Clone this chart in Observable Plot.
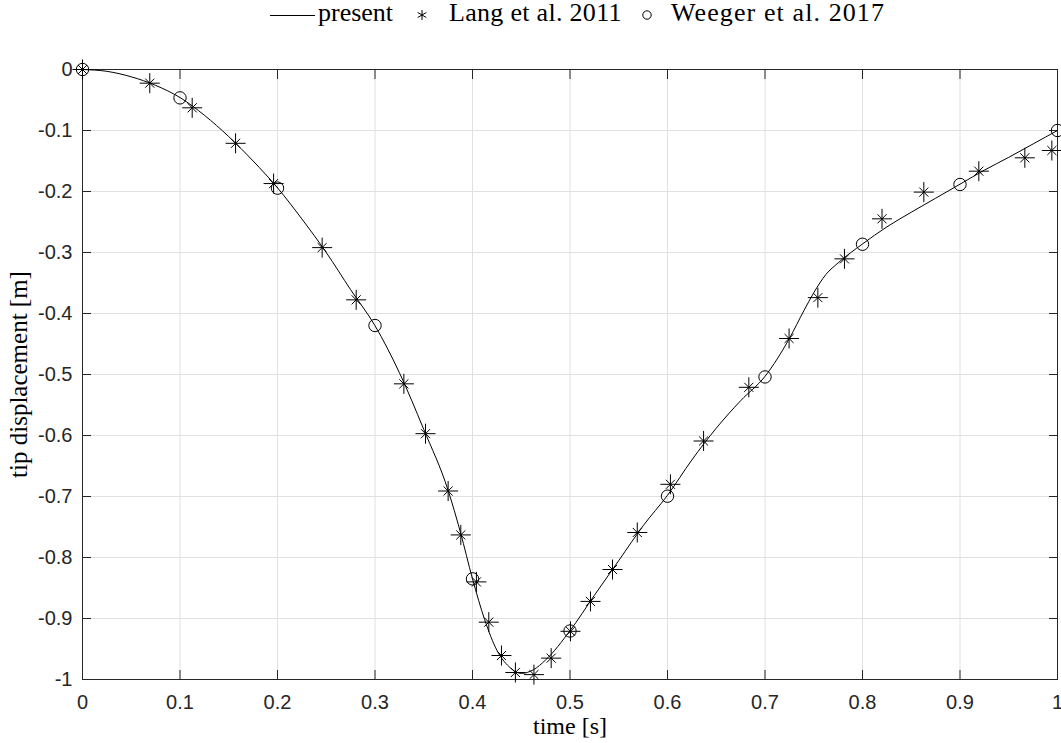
<!DOCTYPE html>
<html>
<head>
<meta charset="utf-8">
<script src="https://cdn.jsdelivr.net/npm/d3@7"></script>
<script src="https://cdn.jsdelivr.net/npm/@observablehq/plot@0.6"></script>
<style>
  html, body { margin: 0; padding: 0; background: #fff; overflow: hidden; }
  #legend { position: relative; width: 1061px; height: 40px; font-family: "Liberation Serif", "Times New Roman", serif; font-size: 26px; line-height: 26px; color: #000; }
  #legend .lbl { position: absolute; top: 0px; white-space: nowrap; }
  #legend .sym { position: absolute; }
  #chart svg { display: block; }
</style>
</head>
<body>
<div id="legend"></div>
<div id="chart"></div>
<script>
// ---- data ----
const presentT = [0, 0.025, 0.05, 0.075, 0.1, 0.125, 0.15, 0.175, 0.2, 0.225, 0.25, 0.275, 0.3, 0.325, 0.35, 0.375, 0.3875, 0.4, 0.4125, 0.425, 0.4375, 0.45, 0.4625, 0.475, 0.5, 0.525, 0.55, 0.575, 0.6, 0.625, 0.65, 0.675, 0.7, 0.725, 0.74, 0.75, 0.7625, 0.775, 0.8, 0.825, 0.85, 0.875, 0.9, 0.925, 0.95, 0.975, 1.0];
const presentY = [0, -0.003, -0.012, -0.026, -0.046, -0.075, -0.110, -0.150, -0.194, -0.245, -0.300, -0.361, -0.420, -0.497, -0.590, -0.690, -0.758, -0.835, -0.902, -0.952, -0.979, -0.990, -0.984, -0.968, -0.920, -0.862, -0.805, -0.748, -0.698, -0.640, -0.588, -0.543, -0.503, -0.441, -0.395, -0.366, -0.336, -0.317, -0.286, -0.258, -0.234, -0.211, -0.188, -0.165, -0.144, -0.122, -0.100];

const langT = [0, 0.069, 0.1125, 0.157, 0.196, 0.2458, 0.2807, 0.3296, 0.3518, 0.375, 0.388, 0.404, 0.4167, 0.4297, 0.444, 0.463, 0.4807, 0.5005, 0.521, 0.5436, 0.569, 0.603, 0.637, 0.6834, 0.7247, 0.7542, 0.7815, 0.820, 0.8629, 0.9193, 0.9665, 0.9942];
const langY = [0, -0.0224, -0.0628, -0.121, -0.187, -0.292, -0.3776, -0.5153, -0.597, -0.691, -0.763, -0.840, -0.906, -0.9607, -0.9885, -0.992, -0.965, -0.921, -0.872, -0.8197, -0.759, -0.680, -0.609, -0.521, -0.441, -0.374, -0.3104, -0.2448, -0.201, -0.1667, -0.1448, -0.1328];

const weegerT = [0, 0.1, 0.2, 0.3, 0.4, 0.5, 0.6, 0.7, 0.8, 0.9, 1.0];
const weegerY = [0, -0.0465, -0.1945, -0.4197, -0.835, -0.9205, -0.6995, -0.504, -0.2865, -0.1885, -0.100];

const xTicks = [0, 0.1, 0.2, 0.3, 0.4, 0.5, 0.6, 0.7, 0.8, 0.9, 1];
const yTicks = [0, -0.1, -0.2, -0.3, -0.4, -0.5, -0.6, -0.7, -0.8, -0.9, -1];

const seriesNames = ["present", "Lang et al. 2011", "Weeger et al. 2017"];
const xLabel = "time [s]";
const yLabel = "tip displacement [m]";

// ---- tables built from the arrays ----
const present = presentT.map((t, i) => ({t, y: presentY[i]}));
const lang = langT.map((t, i) => ({t, y: langY[i]}));
const weeger = weegerT.map((t, i) => ({t, y: weegerY[i]}));

const fmt = d => String(d);
const axisColor = "#262626";
const gridColor = "#e0e0e0";
const serif = '"Liberation Serif", "Times New Roman", serif';

// ---- legend (HTML above the SVG) ----
const legend = document.getElementById("legend");
legend.innerHTML = `
  <div class="sym" style="left:270px;top:15px;width:45px;height:0;border-top:1px solid #000"></div>
  <span class="lbl" style="left:318px">${seriesNames[0]}</span>
  <svg class="sym" style="left:416px;top:9px" width="12" height="12" viewBox="-6 -6 12 12">
    <g stroke="#000" stroke-width="1" fill="none">
      <line x1="0" y1="-5" x2="0" y2="5"/>
      <line x1="-4.33" y1="-2.5" x2="4.33" y2="2.5"/>
      <line x1="-4.33" y1="2.5" x2="4.33" y2="-2.5"/>
    </g>
  </svg>
  <span class="lbl" style="left:449px;letter-spacing:0.3px">${seriesNames[1]}</span>
  <svg class="sym" style="left:641px;top:9px" width="12" height="12" viewBox="-6 -6 12 12">
    <circle r="4.2" fill="none" stroke="#000" stroke-width="1"/>
  </svg>
  <span class="lbl" style="left:671px;letter-spacing:1.1px">${seriesNames[2]}</span>
`;

// ---- chart ----
const chart = Plot.plot({
  width: 1061,
  height: 703,
  marginTop: 29,
  marginBottom: 64,
  marginLeft: 82,
  marginRight: 4,
  x: {domain: [0, 1], label: null},
  y: {domain: [-1, 0], label: null},
  style: {fontFamily: '"Liberation Sans", Arial, sans-serif', fontSize: "20px", color: axisColor, background: "#fff", overflow: "visible"},
  marks: [
    Plot.gridX(xTicks, {stroke: gridColor, strokeOpacity: 1}),
    Plot.gridY(yTicks, {stroke: gridColor, strokeOpacity: 1}),
    Plot.frame({stroke: axisColor, strokeWidth: 1}),
    // inward ticks on all four sides
    Plot.axisX(xTicks, {anchor: "bottom", tickSize: -9, tickFormat: () => "", stroke: axisColor}),
    Plot.axisX(xTicks, {anchor: "top", tickSize: -9, tickFormat: () => "", stroke: axisColor}),
    Plot.axisY(yTicks, {anchor: "left", tickSize: -9, tickFormat: () => "", stroke: axisColor}),
    Plot.axisY(yTicks, {anchor: "right", tickSize: -9, tickFormat: () => "", stroke: axisColor}),
    // tick labels
    Plot.axisX(xTicks, {anchor: "bottom", tickSize: 0, tickPadding: 15, tickFormat: fmt, fill: axisColor}),
    Plot.axisY(yTicks, {anchor: "left", tickSize: 0, tickPadding: 10, tickFormat: fmt, fill: axisColor}),
    // axis titles
    Plot.text([xLabel], {frameAnchor: "bottom", lineAnchor: "middle", textAnchor: "middle", dy: 47, fontSize: 24, fontFamily: serif, fill: "#000"}),
    Plot.text([yLabel], {frameAnchor: "left", lineAnchor: "middle", textAnchor: "middle", rotate: -90, dx: -64, fontSize: 25, fontFamily: serif, fill: "#000"}),
    // data
    Plot.line(present, {x: "t", y: "y", curve: "monotone-x", stroke: "#000", strokeWidth: 1}),
    Plot.dot(lang, {x: "t", y: "y", symbol: "plus", r: 6.5, stroke: "#000", strokeWidth: 1}),
    Plot.dot(lang, {x: "t", y: "y", symbol: "times", r: 4.2, stroke: "#000", strokeWidth: 1}),
    Plot.dot(weeger, {x: "t", y: "y", symbol: "circle", r: 6.2, stroke: "#000", fill: "none", strokeWidth: 1})
  ]
});
document.getElementById("chart").appendChild(chart);
</script>
</body>
</html>
